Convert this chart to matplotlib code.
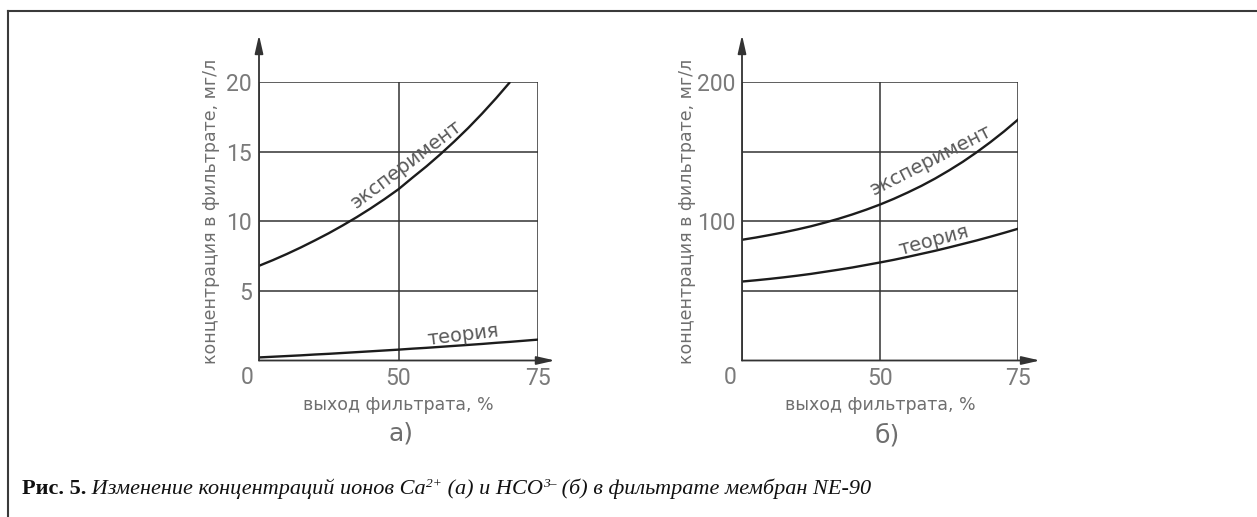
import numpy as np
import matplotlib
matplotlib.use("Agg")
import matplotlib.pyplot as plt
from matplotlib.lines import Line2D

# ---------------- data ----------------
x_fine = [0, 5, 10, 15, 20, 25, 30, 35, 40, 45, 50,
          52.5, 55, 57.5, 60, 62.5, 65, 67.5, 70, 72.5, 75]
x_ticks = [0, 50, 75]

# panel a (Ca2+), mg/l
a_exp_x = [0, 5, 10, 15, 20, 25, 30, 35, 40, 45, 50,
           52.5, 55, 57.5, 60, 62.5, 65, 67.5, 70]
a_exp_y = [6.80, 7.21, 7.65, 8.12, 8.62, 9.14, 9.70, 10.29, 10.92, 11.59, 12.30,
           13.13, 13.94, 14.81, 15.73, 16.70, 17.74, 18.84, 20.0]
a_theory_y = [0.22, 0.27, 0.32, 0.37, 0.43, 0.48, 0.54, 0.60, 0.66, 0.72, 0.78,
              0.85, 0.91, 0.98, 1.05, 1.12, 1.19, 1.27, 1.34, 1.42, 1.50]
a_yticks = [0, 5, 10, 15, 20]
a_ylabels = ["", "5", "10", "15", "20"]

# panel b (HCO3-), mg/l
b_exp_y = [86.7, 88.3, 90.1, 92.0, 94.1, 96.4, 99.0, 101.8, 104.9, 108.3, 112.0,
           116.1, 120.6, 125.4, 130.7, 136.5, 142.7, 149.5, 156.8, 164.6, 173.0]
b_theory_y = [56.7, 57.6, 58.6, 59.7, 60.9, 62.2, 63.7, 65.2, 66.8, 68.6, 70.4,
              72.3, 74.4, 76.6, 78.8, 81.2, 83.7, 86.2, 88.9, 91.7, 94.6]
b_yticks = [0, 50, 100, 150, 200]
b_ylabels = ["", "", "100", "", "200"]

ylabel_text = "концентрация в фильтрате, мг/л"
xlabel_text = "выход фильтрата, %"
curve_exp = "эксперимент"
curve_th = "теория"

W, H = 1257, 517
fig = plt.figure(figsize=(W / 100, H / 100), dpi=100)

GRAY = "#6e6e6e"
DIGCOL = "#7a7a7a"
GRID = "#333333"
LINE = "#1c1c1c"
sans = ["DejaVu Sans"]
digits = ["Roboto", "DejaVu Sans"]
DIG_FS = 16.5


def fwd(x):
    x = np.asarray(x, dtype=float)
    return np.where(x <= 50, x / 50.0, 1.0 + (x - 50.0) / 25.0)


def inv(u):
    u = np.asarray(u, dtype=float)
    return np.where(u <= 1, u * 50.0, 50.0 + (u - 1.0) * 25.0)


def px_rect(l, r, top, bottom):
    return [l / W, (H - bottom) / H, (r - l) / W, (bottom - top) / H]


def make_panel(rect, ymax, yticks, ylabels, arrow_x_end, letter, letter_xy, ylab_x):
    ax = fig.add_axes(rect)
    ax.set_xscale("function", functions=(fwd, inv))
    ax.set_xlim(0, 75)
    ax.set_ylim(0, ymax)
    for s in ax.spines.values():
        s.set_visible(False)
    ax.set_xticks(x_ticks)
    ax.set_xticklabels(["", "50", "75"])
    ax.set_yticks(yticks)
    ax.set_yticklabels(ylabels)
    ax.minorticks_off()
    ax.tick_params(axis="y", length=0, pad=5, labelsize=DIG_FS, labelcolor=DIGCOL)
    ax.tick_params(axis="x", length=0, pad=5, labelsize=DIG_FS, labelcolor=DIGCOL)
    for lab in ax.get_xticklabels() + ax.get_yticklabels():
        lab.set_family(digits)
    ax.grid(True, color=GRID, lw=1.1)
    ax.set_axisbelow(True)
    # axes as arrows
    ax.annotate("", xy=(0, 1.169), xycoords="axes fraction", xytext=(0, 0),
                textcoords="axes fraction",
                arrowprops=dict(arrowstyle="-|>,head_length=1.1,head_width=0.25",
                                color=GRID, lw=1.3, shrinkA=0, shrinkB=0),
                annotation_clip=False)
    ax.annotate("", xy=(arrow_x_end, 0), xycoords="axes fraction", xytext=(0, 0),
                textcoords="axes fraction",
                arrowprops=dict(arrowstyle="-|>,head_length=1.1,head_width=0.25",
                                color=GRID, lw=1.3, shrinkA=0, shrinkB=0),
                annotation_clip=False)
    # corner "0"
    ax.annotate("0", xy=(0, 0), xycoords="data", xytext=(-12, -17),
                textcoords="offset pixels", ha="center", va="center",
                fontsize=DIG_FS, color=DIGCOL, family=digits,
                annotation_clip=False)
    ax.set_xlabel(xlabel_text, fontsize=12.5, color=GRAY, family=sans, labelpad=4)
    fig.text(ylab_x / W, 1 - 211 / H, ylabel_text, rotation=90, ha="center",
             va="center", fontsize=12.5, color=GRAY, family=sans)
    fig.text(letter_xy[0] / W, 1 - letter_xy[1] / H, letter, ha="center",
             va="center", fontsize=18, color=GRAY, family=sans)
    return ax


axa = make_panel(px_rect(259, 538, 82, 360.5), 20, a_yticks, a_ylabels,
                 1.061, "а)", (401, 433), 211)
axa.plot(a_exp_x, a_exp_y, color=LINE, lw=1.7, solid_capstyle="butt")
axa.plot(x_fine, a_theory_y, color=LINE, lw=1.7)
axa.text(51.5, 14.1, curve_exp, rotation=37, ha="center", va="center",
         fontsize=14, color="#595959", family=sans, rotation_mode="anchor")
axa.text(61.5, 1.85, curve_th, rotation=7, ha="center", va="center",
         fontsize=14, color="#595959", family=sans, rotation_mode="anchor")

axb = make_panel(px_rect(742, 1018, 82, 360.5), 200, b_yticks, b_ylabels,
                 1.08, "б)", (887, 435), 687)
axb.plot(x_fine, b_exp_y, color=LINE, lw=1.7)
axb.plot(x_fine, b_theory_y, color=LINE, lw=1.7)
axb.text(59.2, 144, curve_exp, rotation=27, ha="center", va="center",
         fontsize=14, color="#595959", family=sans, rotation_mode="anchor")
axb.text(59.7, 86.5, curve_th, rotation=15, ha="center", va="center",
         fontsize=14, color="#595959", family=sans, rotation_mode="anchor")

# frame lines (top and left)
fig.add_artist(Line2D([8 / W, 1.0], [1 - 11 / H, 1 - 11 / H], color="#3a3a3a", lw=1.5))
fig.add_artist(Line2D([8 / W, 8 / W], [0, 1 - 11 / H], color="#3a3a3a", lw=1.5))

# caption built from pieces
serif = ["Liberation Serif", "DejaVu Serif"]
pieces = [
    ("Рис. 5.", dict(weight="bold", style="normal"), 0, 1.0),
    (" Изменение концентраций ионов Ca", dict(style="italic"), 0, 1.0),
    ("2+", dict(style="italic"), 7, 0.6),
    (" (а) и HCO", dict(style="italic"), 0, 1.0),
    ("3–", dict(style="italic"), 7, 0.6),
    (" (б) в фильтрате мембран NE-90", dict(style="italic"), 0, 1.0),
]
cap_fs = 16
fig.canvas.draw()
renderer = fig.canvas.get_renderer()
xcur = 22.0
base_y = 494.0
for txt, kw, rise, scale in pieces:
    t = fig.text(xcur / W, 1 - (base_y - rise) / H, txt, fontsize=cap_fs * scale,
                 family=serif, color="#111111", va="baseline", ha="left", **kw)
    bb = t.get_window_extent(renderer=renderer)
    xcur += bb.width

fig.savefig("out.png", dpi=100)
